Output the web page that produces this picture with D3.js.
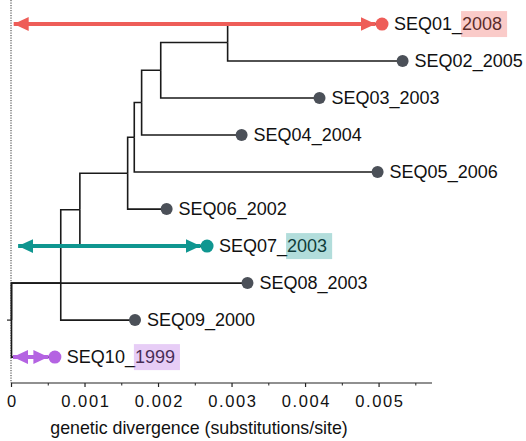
<!DOCTYPE html>
<html>
<head>
<meta charset="utf-8">
<script src="https://cdn.jsdelivr.net/npm/d3@7"></script>
<style>
  body { margin: 0; background: #fff; }
  svg { display: block; font-family: "Liberation Sans", Arial, Helvetica, sans-serif; }
</style>
</head>
<body>
<div id="tree-box"></div>
<script>
// tips of the tree (row 10 is the top row)
const tipNames = ["SEQ01_2008", "SEQ02_2005", "SEQ03_2003", "SEQ04_2004", "SEQ05_2006",
                  "SEQ06_2002", "SEQ07_2003", "SEQ08_2003", "SEQ09_2000", "SEQ10_1999"]
const tipRows = [10, 9, 8, 7, 6, 5, 4, 3, 2, 1]
const tipDiv = [0.00504, 0.00532, 0.00419, 0.00313, 0.00498, 0.00211, 0.00266, 0.00321, 0.00168, 0.00059]
const tipParent = ["n1", "n1", "n2", "n3", "n4", "n5", "n6", "root", "n7", "root"]

// internal nodes
const nodeNames = ["n1", "n2", "n3", "n4", "n5", "n6", "n7", "root"]
const nodeDiv = [0.00294, 0.00203, 0.00177, 0.00167, 0.00158, 0.00093, 0.00067, 0]
const nodeRows = [9.5, 8.75, 7.88, 6.94, 5.97, 4.98, 3, 2]
const nodeParent = ["n2", "n3", "n4", "n5", "n6", "n7", "root", null]

// highlighted tips, with their arrows
const hlTips = ["SEQ01_2008", "SEQ07_2003", "SEQ10_1999"]
const hlColours = ["#ee5d58", "#0f9690", "#b463e2"]
const hlArrowStart = [0.00003, 0.00009, 0.00002]

// axis
const xTicks = [0, 0.001, 0.002, 0.003, 0.004, 0.005]
const xMinorTicks = [0.0005, 0.0015, 0.0025, 0.0035, 0.0045, 0.0055]
const yTicks = [2]

let svgWidth = 526
let svgHeight = 441

let svg = d3.select("#tree-box")
    .append("svg")
        .attr("width", svgWidth)
        .attr("height", svgHeight)

let x = d3.scaleLinear().domain([0, 0.00572]).range([11.5, 432])
let y = d3.scaleLinear().domain([0.3, 10.65]).range([383, 0])

// build one table of nodes
let nodes = {}
tipNames.forEach((n, i) => nodes[n] = {name: n, div: tipDiv[i], row: tipRows[i], parent: tipParent[i], tip: true})
nodeNames.forEach((n, i) => nodes[n] = {name: n, div: nodeDiv[i], row: nodeRows[i], parent: nodeParent[i], tip: false})
let edges = Object.values(nodes).filter(d => d.parent)

// dotted line at the root
svg.append("line")
    .attr("x1", x(0) - 0.5).attr("x2", x(0) - 0.5)
    .attr("y1", 0).attr("y2", y.range()[0])
    .attr("stroke", "#333")
    .attr("stroke-width", 1)
    .attr("stroke-dasharray", "1.2,1.3")

// y axis tick
svg.selectAll("ytick")
    .data(yTicks)
    .join("line")
    .attr("x1", x(0) - 4.5).attr("x2", x(0) - 0.5)
    .attr("y1", d => y(d)).attr("y2", d => y(d))
    .attr("stroke", "#222").attr("stroke-width", 1.2)

// branches (elbow from parent)
svg.selectAll("branch")
    .data(edges)
    .join("path")
    .attr("d", d => {
        let p = nodes[d.parent]
        return `M${x(p.div)},${y(p.row)}V${y(d.row)}H${x(d.div)}`
    })
    .attr("fill", "none")
    .attr("stroke", "#1a1a1a")
    .attr("stroke-width", 1.6)

// arrows for highlighted tips
let dotR = 6.5
let defs = svg.append("defs")
hlColours.forEach((c, i) => {
    defs.append("marker")
        .attr("id", "head" + i)
        .attr("markerUnits", "userSpaceOnUse")
        .attr("markerWidth", 16).attr("markerHeight", 16)
        .attr("viewBox", "0 -8 16 16")
        .attr("refX", 15).attr("refY", 0)
        .attr("orient", "auto-start-reverse")
        .append("path")
            .attr("d", "M0,-7L15,0L0,7Z")
            .attr("fill", c)
})

svg.selectAll("arrow")
    .data(hlTips)
    .join("line")
    .attr("x1", (d, i) => x(hlArrowStart[i]))
    .attr("x2", d => x(nodes[d].div) - dotR)
    .attr("y1", d => y(nodes[d].row))
    .attr("y2", d => y(nodes[d].row))
    .attr("stroke", (d, i) => hlColours[i])
    .attr("stroke-width", 4)
    .attr("marker-start", (d, i) => `url(#head${i})`)
    .attr("marker-end", (d, i) => `url(#head${i})`)

// tip points
let tips = edges.filter(d => d.tip)
svg.selectAll("tip")
    .data(tips)
    .join("circle")
    .attr("cx", d => x(d.div))
    .attr("cy", d => y(d.row))
    .attr("r", d => hlTips.includes(d.name) ? dotR : 6)
    .attr("fill", d => hlTips.includes(d.name) ? hlColours[hlTips.indexOf(d.name)] : "#4b5058")

// tip labels
let labels = svg.selectAll("tiplabel")
    .data(tips)
    .join("text")
    .attr("x", d => x(d.div) + 12)
    .attr("y", d => y(d.row))
    .attr("dy", "0.35em")
    .style("font-size", "18px")
    .style("fill", "#111")
    .text(d => d.name)

// translucent boxes over the years of highlighted tips
labels.filter(d => hlTips.includes(d.name)).each(function(d) {
    let el = this
    let c = hlColours[hlTips.indexOf(d.name)]
    let cut = d.name.indexOf("_") + 1
    let start = el.getStartPositionOfChar(cut).x
    let end = x(d.div) + 12 + el.getComputedTextLength()
    svg.append("rect")
        .attr("x", start - 1)
        .attr("y", y(d.row) - 13)
        .attr("width", end - start + 6)
        .attr("height", 26)
        .attr("fill", c)
        .attr("opacity", 0.32)
})

// x axis
let axisY = y.range()[0]
svg.append("line")
    .attr("x1", x(0) - 0.5).attr("x2", x.range()[1])
    .attr("y1", axisY).attr("y2", axisY)
    .attr("stroke", "#222").attr("stroke-width", 1.2)

svg.selectAll("xtick")
    .data(xTicks)
    .join("line")
    .attr("x1", d => x(d)).attr("x2", d => x(d))
    .attr("y1", axisY).attr("y2", axisY + 4)
    .attr("stroke", "#222").attr("stroke-width", 1.2)

svg.selectAll("xminor")
    .data(xMinorTicks)
    .join("line")
    .attr("x1", d => x(d)).attr("x2", d => x(d))
    .attr("y1", axisY).attr("y2", axisY + 2.5)
    .attr("stroke", "#222").attr("stroke-width", 1)

svg.selectAll("xlabel")
    .data(xTicks)
    .join("text")
    .attr("x", d => x(d) + 0.8)
    .attr("y", axisY + 18)
    .attr("dy", "0.35em")
    .attr("text-anchor", "middle")
    .style("font-size", "16.5px")
    .style("letter-spacing", "1.6px")
    .style("fill", "#111")
    .text(d => d === 0 ? "0" : d3.format(".3f")(d))

svg.append("text")
    .attr("x", 199)
    .attr("y", 434)
    .attr("text-anchor", "middle")
    .style("font-size", "17.8px")
    .style("fill", "#111")
    .text("genetic divergence (substitutions/site)")
</script>
</body>
</html>
